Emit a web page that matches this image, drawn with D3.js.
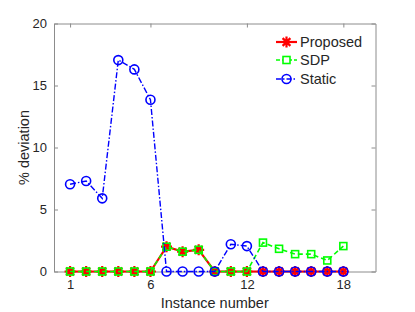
<!DOCTYPE html>
<html>
<head>
<meta charset="utf-8">
<script src="https://cdn.jsdelivr.net/npm/d3@7"></script>
<style>
  body { margin: 0; background: #fff; }
  text { font-family: "Liberation Sans", Arial, sans-serif; fill: #262626; }
</style>
</head>
<body>
<div id="chart"></div>
<script>
var instances = d3.range(1, 19);
var proposed = [0, 0, 0, 0, 0, 0, 2.0, 1.6, 1.75, 0, 0, 0, 0, 0, 0, 0, 0, 0];
var sdp      = [0, 0, 0, 0, 0, 0, 2.0, 1.6, 1.75, 0, 0, 0, 2.33, 1.83, 1.4, 1.4, 0.89, 2.05];
var stat     = [7.04, 7.3, 5.9, 17.05, 16.3, 13.85, 0, 0, 0, 0, 2.2, 2.05, 0, 0, 0, 0, 0, 0];
var xTicks = [1, 6, 12, 18];
var yTicks = [0, 5, 10, 15, 20];
var seriesNames = ['Proposed', 'SDP', 'Static'];

var width = 415, height = 312;
var margin = {left: 54, top: 23.5, right: 39.5, bottom: 40.5};
var w = width - margin.left - margin.right,
    h = height - margin.top - margin.bottom;

var svg = d3.select('#chart').append('svg')
            .attr('width', width).attr('height', height);
var g = svg.append('g').attr('transform', 'translate(' + margin.left + ',' + margin.top + ')');

var x = d3.scaleLinear().domain([0, 20]).range([0, w]);
var y = d3.scaleLinear().domain([0, 20]).range([h, 0]);

var axisColor = '#8c8c8c';

// axes (box, ticks inward)
function styleAxis(sel) {
  sel.selectAll('path').attr('stroke', axisColor);
  sel.selectAll('line').attr('stroke', axisColor);
  sel.selectAll('text').style('font-size', '13px').attr('fill', '#262626');
}
g.append('g').attr('transform', 'translate(0,' + h + ')')
  .call(d3.axisBottom(x).tickValues(xTicks).tickSizeInner(-4).tickSizeOuter(0).tickPadding(8))
  .call(styleAxis);
g.append('g')
  .call(d3.axisTop(x).tickValues(xTicks).tickSizeInner(-4).tickSizeOuter(0).tickFormat(''))
  .call(styleAxis);
g.append('g')
  .call(d3.axisLeft(y).tickValues(yTicks).tickSizeInner(-4).tickSizeOuter(0).tickPadding(7))
  .call(styleAxis);
g.append('g').attr('transform', 'translate(' + w + ',0)')
  .call(d3.axisRight(y).tickValues(yTicks).tickSizeInner(-4).tickSizeOuter(0).tickFormat(''))
  .call(styleAxis);
g.selectAll('.domain').attr('stroke-width', 1);

// axis labels
svg.append('text').attr('x', margin.left + x(10)).attr('y', 307.5)
   .attr('text-anchor', 'middle').style('font-size', '14.5px').text('Instance number');
svg.append('text').attr('transform', 'translate(29,' + (margin.top + h / 2) + ') rotate(-90)')
   .attr('text-anchor', 'middle').style('font-size', '14.5px').text('% deviation');

var line = d3.line().x(function(d, i) { return x(instances[i]); }).y(function(d) { return y(d); });

function star(r) {
  var a = r * 0.7071;
  return 'M' + (-r) + ',0L' + r + ',0M0,' + (-r) + 'L0,' + r +
         'M' + (-a) + ',' + (-a) + 'L' + a + ',' + a + 'M' + (-a) + ',' + a + 'L' + a + ',' + (-a);
}

// Proposed
g.append('path').datum(proposed).attr('d', line)
 .attr('fill', 'none').attr('stroke', '#ff0000').attr('stroke-width', 2.2);
g.selectAll('.mp').data(proposed).enter().append('path')
 .attr('transform', function(d, i) { return 'translate(' + x(instances[i]) + ',' + y(d) + ')'; })
 .attr('d', star(5.5)).attr('stroke', '#ff0000').attr('stroke-width', 2.2).attr('fill', 'none');

// SDP
g.append('path').datum(sdp).attr('d', line)
 .attr('fill', 'none').attr('stroke', '#00ff00').attr('stroke-width', 1.6).attr('stroke-dasharray', '5,3');
g.selectAll('.ms').data(sdp).enter().append('rect')
 .attr('x', function(d, i) { return x(instances[i]) - 3.5; })
 .attr('y', function(d) { return y(d) - 3.5; })
 .attr('width', 7).attr('height', 7)
 .attr('fill', 'none').attr('stroke', '#00ff00').attr('stroke-width', 1.6);

// Static
g.append('path').datum(stat).attr('d', line)
 .attr('fill', 'none').attr('stroke', '#0000ff').attr('stroke-width', 1.4).attr('stroke-dasharray', '6,2,1.5,2');
g.selectAll('.mc').data(stat).enter().append('circle')
 .attr('cx', function(d, i) { return x(instances[i]); })
 .attr('cy', function(d) { return y(d); })
 .attr('r', 4.5)
 .attr('fill', 'none').attr('stroke', '#0000ff').attr('stroke-width', 1.6);

// legend
var legend = svg.append('g').attr('transform', 'translate(276,0)');
var legY = [42, 60, 79];
var legStyles = [
  {color: '#ff0000', width: 2.2, dash: null},
  {color: '#00ff00', width: 1.6, dash: '4,2'},
  {color: '#0000ff', width: 1.4, dash: '5,2,1.5,2'}
];
seriesNames.forEach(function(name, i) {
  var s = legStyles[i];
  var row = legend.append('g').attr('transform', 'translate(0,' + legY[i] + ')');
  row.append('line').attr('x1', 0).attr('x2', 21).attr('y1', 0).attr('y2', 0)
     .attr('stroke', s.color).attr('stroke-width', s.width).attr('stroke-dasharray', s.dash);
  if (i === 0) {
    row.append('path').attr('transform', 'translate(10.5,0)').attr('d', star(5.5))
       .attr('stroke', s.color).attr('stroke-width', 2.2).attr('fill', 'none');
  } else if (i === 1) {
    row.append('rect').attr('x', 7).attr('y', -3.5).attr('width', 7).attr('height', 7)
       .attr('fill', '#fff').attr('stroke', s.color).attr('stroke-width', 1.6);
  } else {
    row.append('circle').attr('cx', 10.5).attr('cy', 0).attr('r', 4.5)
       .attr('fill', 'none').attr('stroke', s.color).attr('stroke-width', 1.6);
  }
  row.append('text').attr('x', 24).attr('y', 5).style('font-size', '14.5px').text(name);
});
</script>
</body>
</html>
